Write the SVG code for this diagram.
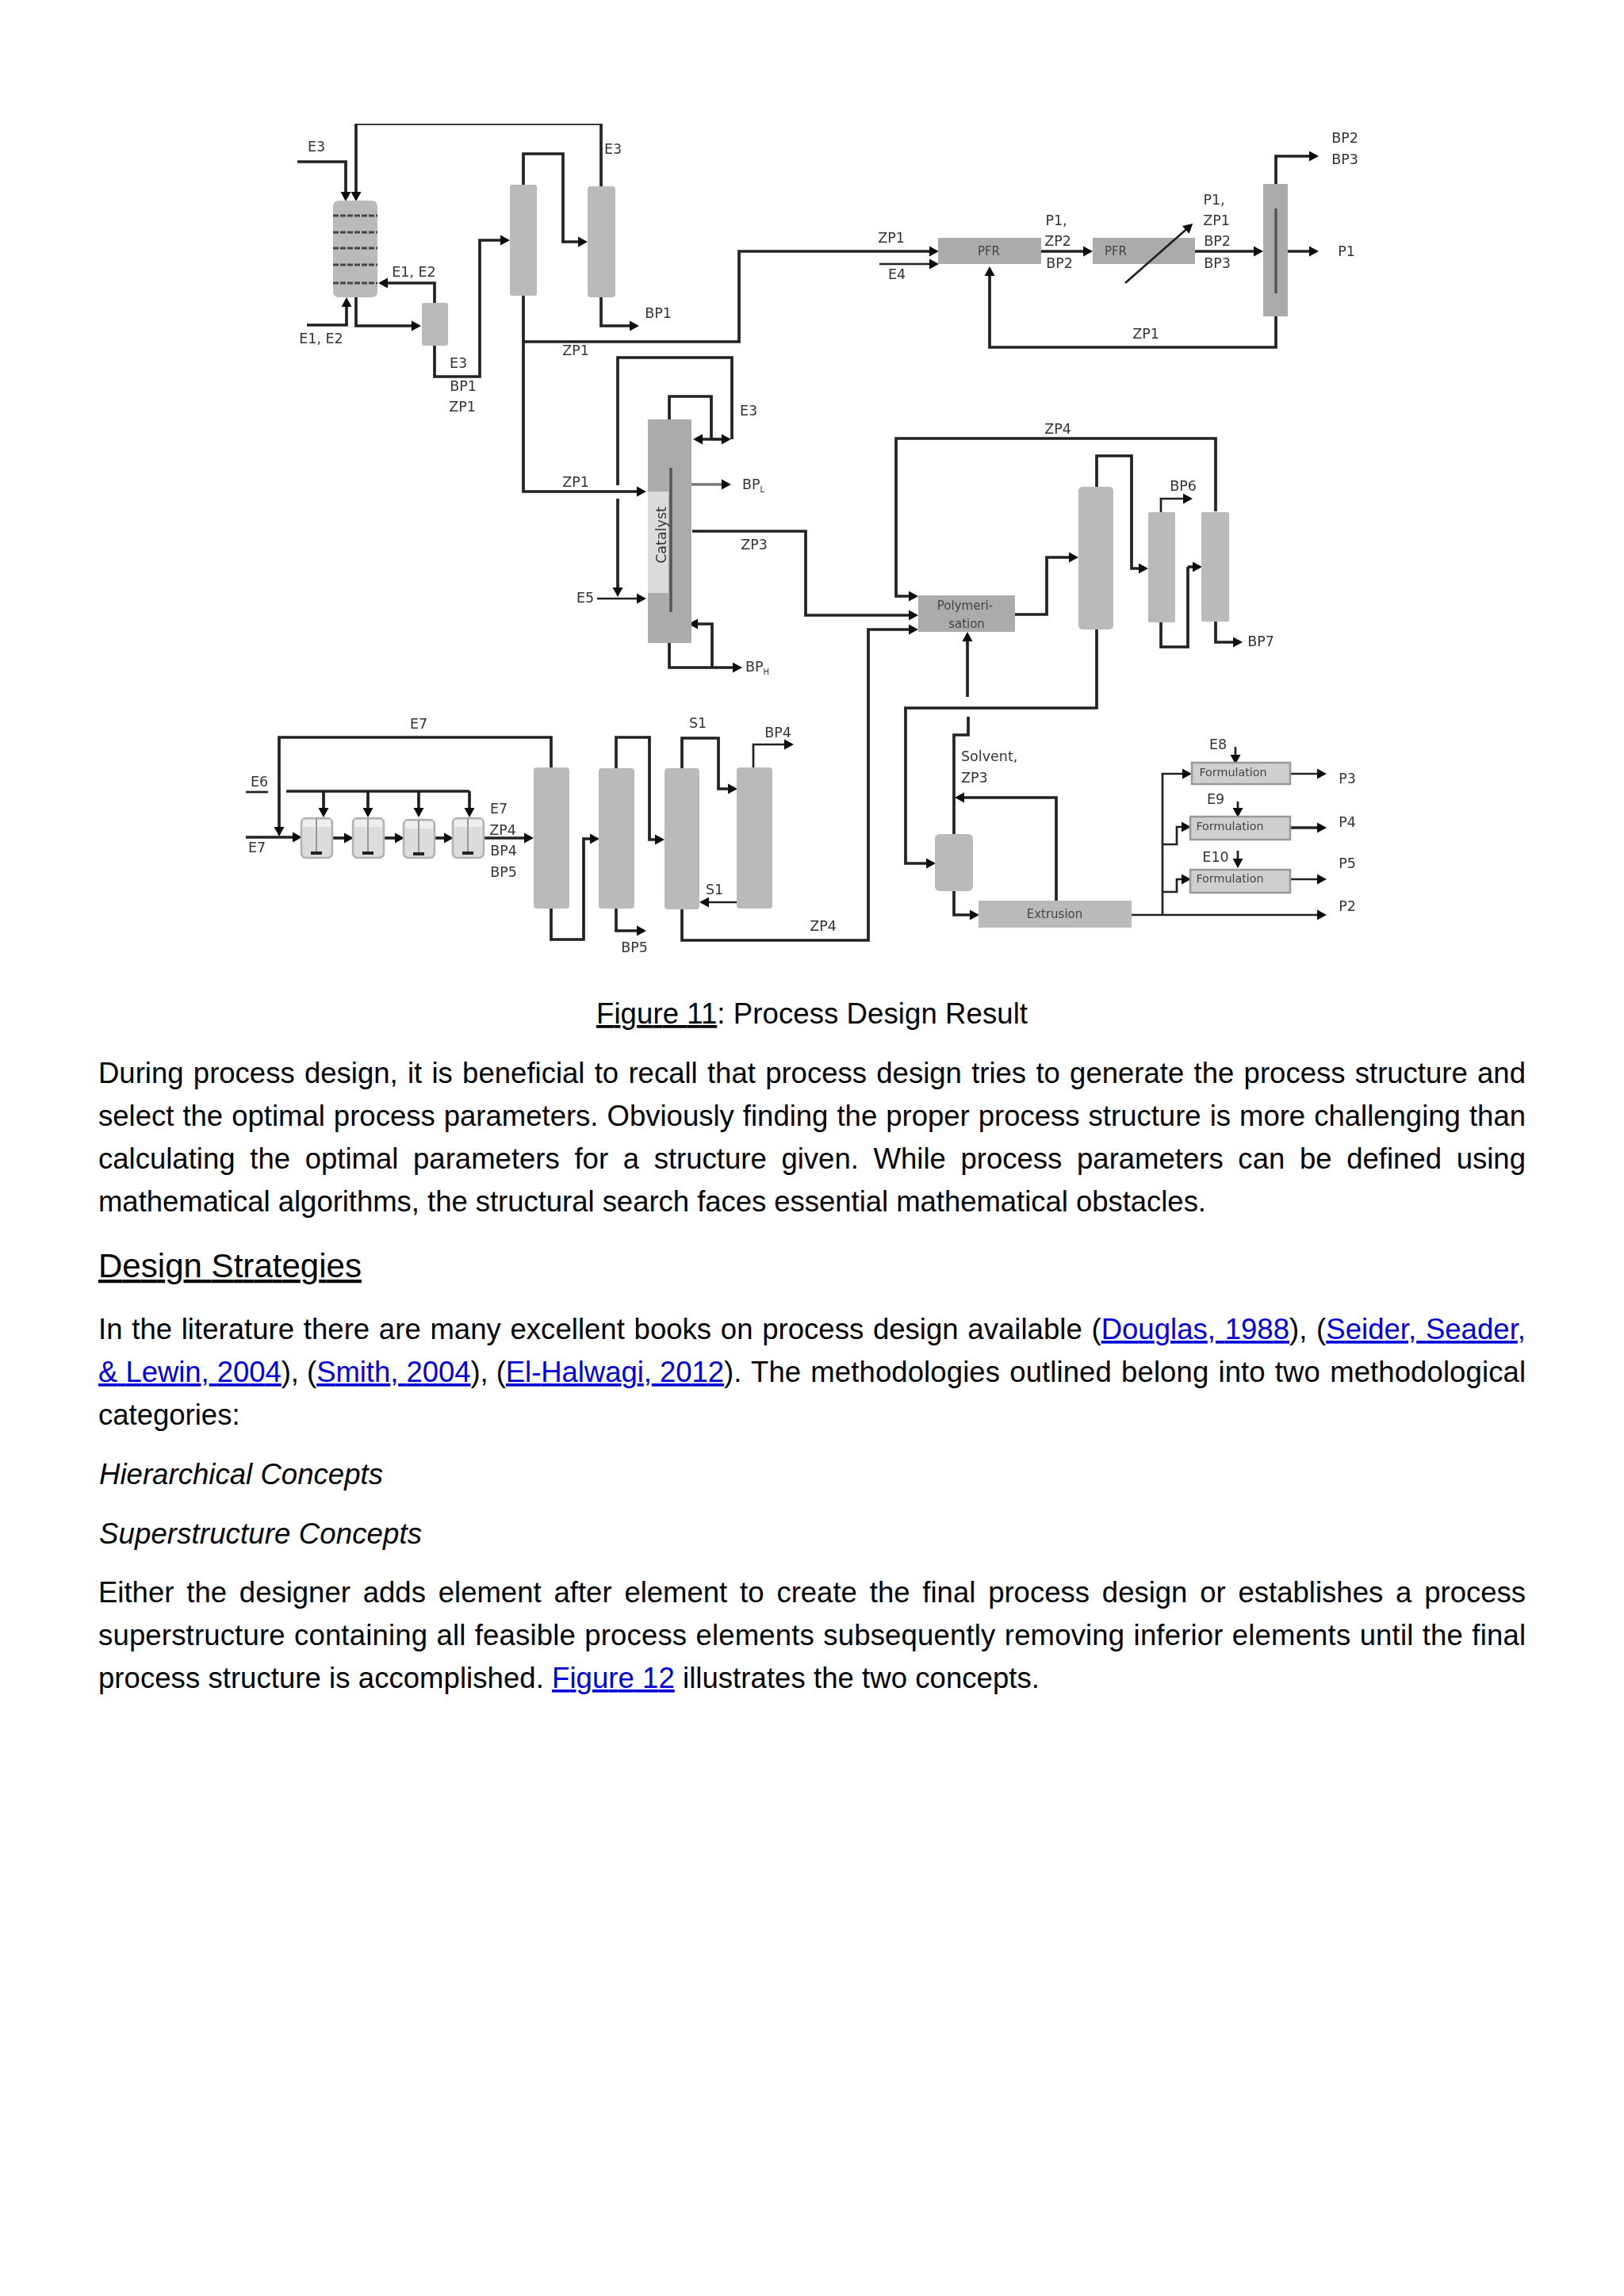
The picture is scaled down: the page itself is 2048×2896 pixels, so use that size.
<svg xmlns="http://www.w3.org/2000/svg" width="2048" height="2896" viewBox="0 0 2048 2896">
<style>
.bg{fill:#fff}
.col{fill:#bababa}
.box{fill:#ababab}
.form{fill:#cfcfcf;stroke:#999;stroke-width:2.5}
.tank{fill:#dcdcdc;stroke:#b2b2b2;stroke-width:2.5}
.tanktop{fill:#eeeeee}
.shaft{stroke:#999;stroke-width:2;fill:none}
.blade{fill:#222}
.tray{stroke:#444;stroke-width:3;stroke-dasharray:7 2;fill:none}
.inner{stroke:#555;stroke-width:3.5;fill:none}
.ln{fill:none;stroke:#222;stroke-width:3.7;stroke-linejoin:miter}
.la{fill:none;stroke:#222;stroke-width:3.7;marker-end:url(#ah)}
.gr{stroke:#777}
.th{stroke-width:2.7}
.lbl{font-family:"DejaVu Sans",Verdana,sans-serif;font-size:17.5px;fill:#333;text-anchor:middle}
.in{font-family:"DejaVu Sans",Verdana,sans-serif;font-size:15px;fill:#444;text-anchor:middle}
.sub{font-size:10px}
.body{font-family:"Liberation Sans",Arial,sans-serif;font-size:36.5px;fill:#000}
.ital{font-style:italic}
.head{font-size:42px;text-decoration:underline}
.link{fill:#0000d8;text-decoration:underline}
.u{text-decoration:underline}
</style>
<defs>
<marker id="ah" markerUnits="userSpaceOnUse" markerWidth="15" markerHeight="15" refX="9" refY="7" orient="auto">
<path d="M0 0.5 L12 7 L0 13.5 Z" fill="#111"/>
</marker>
<filter id="soft" x="0" y="0" width="1" height="1"><feGaussianBlur stdDeviation="0.6"/></filter>
</defs>
<rect class="bg" width="2048" height="2896"/>

<g id="diagram" filter="url(#soft)">
<g id="connectors">
<polyline class="la" points="375,204 436,204 436,251"/>
<polyline class="la" points="758,235 758,156 449,156 449,251"/>
<polyline class="la" points="387,410 437,410 437,378"/>
<polyline class="la" points="449,375 449,411 528,411"/>
<polyline class="la" points="548,382 548,357 480,357"/>
<polyline class="la" points="548,436 548,475 605,475 605,303 640,303"/>
<polyline class="la" points="660,233 660,194 710,194 710,305 738,305"/>
<polyline class="la" points="758,375 758,411 803,411"/>
<polyline class="la" points="660,373 660,620 812,620"/>
<polyline class="la" points="660,431 932,431 932,317 1181,317"/>
<polyline class="la th" points="1109,333 1181,333"/>
<polyline class="la" points="1313,317 1375,317"/>
<polyline class="la" points="1507,317 1590,317"/>
<polyline class="la" points="1609,232 1609,197 1660,197"/>
<polyline class="la" points="1624,317 1660,317"/>
<polyline class="la" points="1609,399 1609,438 1248,438 1248,339"/>
<polyline class="ln" points="779,612 779,451 923,451 923,554"/>
<polyline class="la" points="779,629 779,750"/>
<polyline class="la th" points="753,755 812,755"/>
<polyline class="la" points="844,529 844,500 897,500 897,554 877,554"/>
<polyline class="la" points="897,554 919,554"/>
<polyline class="la gr" points="872,611 919,611"/>
<polyline class="la" points="873,670 1016,670 1016,776 1155,776"/>
<polyline class="la" points="898,842 898,787 871,787"/>
<polyline class="la" points="844,811 844,842 933,842"/>
<polyline class="la" points="1533,645 1533,553 1130,553 1130,752 1155,752"/>
<polyline class="la" points="1220,879 1220,800"/>
<polyline class="la" points="1280,775 1320,775 1320,703 1357,703"/>
<polyline class="la" points="1383,614 1383,575 1427,575 1427,717 1445,717"/>
<polyline class="la th" points="1464,646 1464,629 1501,629"/>
<polyline class="ln" points="1464,785 1464,816 1498,816 1498,715"/>
<polyline class="la" points="1498,715 1513,715"/>
<polyline class="la" points="1533,784 1533,810 1564,810"/>
<polyline class="la" points="1383,794 1383,893 1142,893 1142,1089 1177,1089"/>
<polyline class="ln" points="1221,904 1221,927 1203,927 1203,1052"/>
<polyline class="la" points="1332,1136 1332,1006 1207,1006"/>
<polyline class="la" points="1203,1124 1203,1154 1232,1154"/>
<polyline class="la th" points="1427,1154 1670,1154"/>
<polyline class="la th" points="1466,1154 1466,976 1500,976"/>
<polyline class="la th" points="1466,1065 1484,1065 1484,1043 1499,1043"/>
<polyline class="la th" points="1466,1125 1484,1125 1484,1109 1499,1109"/>
<polyline class="la th" points="1627,976 1670,976"/>
<polyline class="la" points="1627,1044 1670,1044"/>
<polyline class="la th" points="1627,1109 1670,1109"/>
<polyline class="la th" points="1558,942 1558,961"/>
<polyline class="la th" points="1561,1011 1561,1028"/>
<polyline class="la th" points="1561,1073 1561,1092"/>
<polyline class="la" points="695,968 695,930 352,930 352,1052"/>
<polyline class="la" points="310,1056 378,1056"/>
<polyline class="ln th" points="310,999 338,999"/>
<polyline class="ln" points="361,998 592,998"/>
<polyline class="la" points="408,998 408,1028"/>
<polyline class="la" points="464,998 464,1028"/>
<polyline class="la" points="528,998 528,1028"/>
<polyline class="la" points="592,998 592,1028"/>
<polyline class="la" points="419,1057 443,1057"/>
<polyline class="la" points="484,1057 507,1057"/>
<polyline class="la" points="548,1057 569,1057"/>
<polyline class="la" points="610,1057 670,1057"/>
<polyline class="la" points="695,1146 695,1185 736,1185 736,1058 753,1058"/>
<polyline class="la" points="777,969 777,930 819,930 819,1059 835,1059"/>
<polyline class="la" points="777,1146 777,1174 812,1174"/>
<polyline class="la" points="860,969 860,931 906,931 906,995 927,995"/>
<polyline class="la th" points="950,968 950,939 998,939"/>
<polyline class="la th" points="929,1138 885,1138"/>
<polyline class="la" points="860,1147 860,1186 1095,1186 1095,794 1155,794"/>
</g>

<g id="absorber"><rect class="col" x="420" y="253" width="56" height="122" rx="7"/>
<path class="tray" d="M420 272H476M420 293H476M420 313H476M420 334H476M420 357H476"/></g>
<g id="flash"><rect class="col" x="532" y="382" width="33" height="54" rx="3"/></g>
<g id="column-a"><rect class="col" x="643" y="233" width="34" height="140" rx="3"/></g>
<g id="column-b"><rect class="col" x="741" y="235" width="35" height="140" rx="4"/></g>
<g id="pfr-1"><rect class="box" x="1183" y="300" width="130" height="33"/><text class="in" x="1247" y="322">PFR</text></g>
<g id="pfr-2"><rect class="box" x="1378" y="300" width="129" height="33"/><text class="in" x="1407" y="322">PFR</text>
<polyline class="la th" points="1419,357 1502,284"/></g>
<g id="separator"><rect class="box" x="1593" y="232" width="31" height="167"/><path class="inner" d="M1609 263V370"/></g>
<g id="catalyst-column"><rect class="box" x="817" y="529" width="55" height="282"/><rect x="817" y="620" width="26" height="128" fill="#dcdcdc"/><path class="inner" d="M846 590V772"/>
<text class="lbl" transform="translate(840 675) rotate(-90)">Catalyst</text></g>
<g id="polymerisation"><rect class="box" x="1158" y="751" width="122" height="46"/><text class="in" x="1217" y="769">Polymeri-</text><text class="in" x="1219" y="792">sation</text></g>
<g id="column-c"><rect class="col" x="1360" y="614" width="44" height="180" rx="5"/></g>
<g id="column-d"><rect class="col" x="1448" y="646" width="34" height="139" rx="2"/></g>
<g id="column-e"><rect class="col" x="1515" y="646" width="35" height="138" rx="2"/></g>
<g id="column-f"><rect class="col" x="1179" y="1052" width="48" height="72" rx="6"/></g>
<g id="extrusion"><rect class="col" x="1234" y="1136" width="193" height="34"/><text class="in" x="1330" y="1158">Extrusion</text></g>
<g id="formulation-1"><rect class="form" x="1503" y="962" width="124" height="27"/><text class="in" style="font-size:14.3px" x="1555" y="979">Formulation</text></g>
<g id="formulation-2"><rect class="form" x="1501" y="1030" width="126" height="29"/><text class="in" style="font-size:14.3px" x="1551" y="1047">Formulation</text></g>
<g id="formulation-3"><rect class="form" x="1501" y="1097" width="126" height="29"/><text class="in" style="font-size:14.3px" x="1551" y="1113">Formulation</text></g>
<g id="tank-1"><rect class="tank" x="380" y="1032" width="39" height="50" rx="6"/><rect class="tanktop" x="382" y="1034" width="35" height="9"/><path class="shaft" d="M399 1032V1075"/><rect class="blade" x="392" y="1074" width="14" height="4"/></g>
<g id="tank-2"><rect class="tank" x="445" y="1032" width="39" height="50" rx="6"/><rect class="tanktop" x="447" y="1034" width="35" height="9"/><path class="shaft" d="M464 1032V1075"/><rect class="blade" x="457" y="1074" width="14" height="4"/></g>
<g id="tank-3"><rect class="tank" x="509" y="1034" width="39" height="48" rx="6"/><rect class="tanktop" x="511" y="1036" width="35" height="9"/><path class="shaft" d="M528 1034V1075"/><rect class="blade" x="521" y="1075" width="14" height="4"/></g>
<g id="tank-4"><rect class="tank" x="571" y="1032" width="39" height="50" rx="6"/><rect class="tanktop" x="573" y="1034" width="35" height="9"/><path class="shaft" d="M590 1032V1075"/><rect class="blade" x="583" y="1074" width="14" height="4"/></g>
<g id="column-g"><rect class="col" x="673" y="968" width="45" height="178" rx="4"/></g>
<g id="column-h"><rect class="col" x="755" y="969" width="45" height="177" rx="4"/></g>
<g id="column-i"><rect class="col" x="838" y="969" width="44" height="178" rx="4"/></g>
<g id="column-j"><rect class="col" x="929" y="968" width="45" height="178" rx="4"/></g>

<g id="stream-labels">
<text class="lbl" x="399" y="191">E3</text>
<text class="lbl" x="773" y="194">E3</text>
<text class="lbl" x="522" y="349">E1, E2</text>
<text class="lbl" x="405" y="433">E1, E2</text>
<text class="lbl" x="578" y="464">E3</text>
<text class="lbl" x="584" y="493">BP1</text>
<text class="lbl" x="583" y="519">ZP1</text>
<text class="lbl" x="830" y="401">BP1</text>
<text class="lbl" x="726" y="448">ZP1</text>
<text class="lbl" x="1124" y="306">ZP1</text>
<text class="lbl" x="1131" y="352">E4</text>
<text class="lbl" x="1332" y="284">P1,</text>
<text class="lbl" x="1334" y="310">ZP2</text>
<text class="lbl" x="1336" y="338">BP2</text>
<text class="lbl" x="1531" y="258">P1,</text>
<text class="lbl" x="1534" y="284">ZP1</text>
<text class="lbl" x="1535" y="310">BP2</text>
<text class="lbl" x="1535" y="338">BP3</text>
<text class="lbl" x="1696" y="180">BP2</text>
<text class="lbl" x="1696" y="207">BP3</text>
<text class="lbl" x="1698" y="323">P1</text>
<text class="lbl" x="1445" y="427">ZP1</text>
<text class="lbl" x="726" y="614">ZP1</text>
<text class="lbl" x="944" y="524">E3</text>
<text class="lbl" x="950" y="617">BP<tspan class="sub" dy="4">L</tspan></text>
<text class="lbl" x="951" y="693">ZP3</text>
<text class="lbl" x="738" y="760">E5</text>
<text class="lbl" x="955" y="847">BP<tspan class="sub" dy="4">H</tspan></text>
<text class="lbl" x="1334" y="547">ZP4</text>
<text class="lbl" x="1492" y="619">BP6</text>
<text class="lbl" x="1590" y="815">BP7</text>
<text class="lbl" x="1536" y="945">E8</text>
<text class="lbl" x="1533" y="1014">E9</text>
<text class="lbl" x="1533" y="1087">E10</text>
<text class="lbl" x="1699" y="988">P3</text>
<text class="lbl" x="1699" y="1043">P4</text>
<text class="lbl" x="1699" y="1095">P5</text>
<text class="lbl" x="1699" y="1149">P2</text>
<text class="lbl" style="text-anchor:start" x="1212" y="960">Solvent,</text>
<text class="lbl" style="text-anchor:start" x="1212" y="987">ZP3</text>
<text class="lbl" x="528" y="919">E7</text>
<text class="lbl" x="327" y="992">E6</text>
<text class="lbl" x="324" y="1075">E7</text>
<text class="lbl" x="629" y="1026">E7</text>
<text class="lbl" x="634" y="1053">ZP4</text>
<text class="lbl" x="635" y="1079">BP4</text>
<text class="lbl" x="635" y="1106">BP5</text>
<text class="lbl" x="800" y="1201">BP5</text>
<text class="lbl" x="880" y="918">S1</text>
<text class="lbl" x="981" y="930">BP4</text>
<text class="lbl" x="901" y="1128">S1</text>
<text class="lbl" x="1038" y="1174">ZP4</text>
</g>
</g>

<g id="body-text">
<text class="body" x="752" y="1291" textLength="544"><tspan class="u">Figure 11</tspan>: Process Design Result</text>
<text class="body" x="124" y="1366" textLength="1800" word-spacing="2.1">During process design, it is beneficial to recall that process design tries to generate the process structure and</text>
<text class="body" x="124" y="1420" textLength="1800" word-spacing="0.85">select the optimal process parameters. Obviously finding the proper process structure is more challenging than</text>
<text class="body" x="124" y="1474" textLength="1800" word-spacing="8.5">calculating the optimal parameters for a structure given. While process parameters can be defined using</text>
<text class="body" x="124" y="1528" textLength="1397">mathematical algorithms, the structural search faces essential mathematical obstacles.</text>
<text class="body head" x="124" y="1611" textLength="332">Design Strategies</text>
<text class="body" x="124" y="1689" textLength="1800" word-spacing="1.47">In the literature there are many excellent books on process design available (<tspan class="link">Douglas, 1988</tspan>), (<tspan class="link">Seider, Seader,</tspan></text>
<text class="body" x="124" y="1743" textLength="789"><tspan class="link">&amp; Lewin, 2004</tspan>), (<tspan class="link">Smith, 2004</tspan>), (<tspan class="link">El-Halwagi, 2012</tspan></text>
<text class="body" x="913" y="1743" textLength="1011" word-spacing="1.9">). The methodologies outlined belong into two methodological</text>
<text class="body" x="124" y="1797">categories:</text>
<text class="body ital" x="125" y="1872" textLength="358">Hierarchical Concepts</text>
<text class="body ital" x="125" y="1947" textLength="407">Superstructure Concepts</text>
<text class="body" x="124" y="2021" textLength="1800" word-spacing="5.7">Either the designer adds element after element to create the final process design or establishes a process</text>
<text class="body" x="124" y="2075" textLength="1800" word-spacing="1">superstructure containing all feasible process elements subsequently removing inferior elements until the final</text>
<text class="body" x="124" y="2129" textLength="1187">process structure is accomplished. <tspan class="link">Figure 12</tspan> illustrates the two concepts.</text>
</g>
</svg>
